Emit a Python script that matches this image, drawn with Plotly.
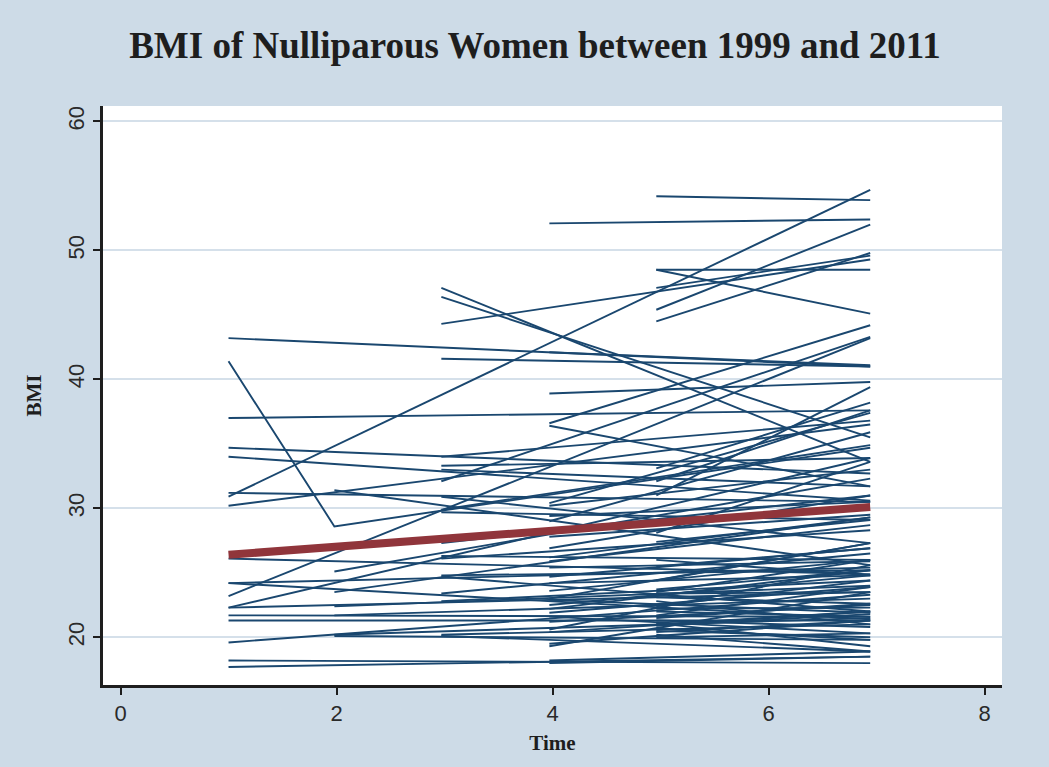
import plotly.graph_objects as go

# ---- data -------------------------------------------------------------
wave_times = [1.0, 1.98, 2.97, 3.97, 4.96]
end_time = 6.94

w1_start = [43.2, 37.0, 34.7, 34.0, 31.2, 30.9, 30.2, 26.1, 24.2, 24.2, 23.2, 22.3, 22.3, 21.7, 21.3, 19.6, 18.2, 17.7]
w1_end   = [41.0, 37.6, 32.7, 30.6, 30.5, 54.7, 36.5, 24.9, 25.4, 21.4, 43.2, 33.9, 23.5, 21.6, 21.3, 23.3, 18.0, 18.5]

w2_start = [31.4, 25.1, 23.5, 22.4, 21.7, 20.2, 20.1]
w2_end   = [25.6, 32.3, 29.3, 24.0, 23.0, 21.5, 19.8]

w3_start = [47.1, 46.4, 44.3, 41.6, 34.0, 33.3, 32.1, 33.0, 30.9, 29.9, 29.7, 27.3, 26.3, 26.1, 24.8, 24.7, 23.4, 22.8, 20.2, 20.1]
w3_end   = [33.6, 35.5, 49.3, 41.0, 36.8, 33.9, 43.3, 31.7, 27.3, 34.9, 29.1, 31.0, 26.0, 28.3, 25.2, 22.0, 26.5, 24.4, 21.0, 18.9]

w4_start = [52.1, 42.1, 38.9, 36.6, 36.4, 30.4, 30.2, 29.4, 29.0, 27.8, 26.9, 26.2, 25.9, 25.4, 24.7, 24.2, 23.6,
            23.0, 22.9, 22.5, 22.2, 21.9, 21.6, 21.2, 20.6, 20.4, 19.5, 19.3, 18.2, 18.0]
w4_end   = [52.4, 41.1, 39.8, 44.2, 31.7, 37.4, 33.0, 30.5, 35.9, 29.5, 31.0, 29.3, 28.7, 25.9, 26.9, 24.8, 26.0,
            27.3, 21.9, 24.8, 25.2, 23.9, 20.3, 22.5, 25.6, 22.0, 21.3, 23.5, 18.9, 18.5]

w5_start = [54.2, 48.5, 48.5, 47.1, 45.4, 44.5, 33.1, 32.1, 31.0, 28.1, 27.4, 26.0, 25.5, 24.4, 23.7, 23.5, 23.4,
            23.1, 22.8, 22.4, 22.2, 22.0, 21.7, 21.5, 21.3, 21.1, 21.0, 20.9, 20.7, 20.5, 20.4, 20.2, 20.0]
w5_end   = [53.9, 48.5, 45.1, 49.6, 52.0, 49.8, 38.2, 37.6, 39.4, 33.6, 29.1, 24.8, 26.9, 27.3, 25.2, 26.0, 23.5,
            22.6, 21.0, 24.4, 22.3, 21.6, 23.9, 22.6, 20.8, 19.3, 22.0, 21.8, 19.8, 20.0, 21.3, 18.9, 20.3]

# subject with three observations
bend_times = [1.0, 1.98, 6.94]
bend_bmi = [41.4, 28.6, 34.7]

# mean trend
mean_times = [1.0, 6.94]
mean_bmi = [26.4, 30.1]

x_ticks = [0, 2, 4, 6, 8]
y_ticks = [20, 30, 40, 50, 60]

# ---- build ------------------------------------------------------------
waves = [(w1_start, w1_end), (w2_start, w2_end), (w3_start, w3_end),
         (w4_start, w4_end), (w5_start, w5_end)]

xs, ys = [], []
for t0, (starts, ends) in zip(wave_times, waves):
    for s, e in zip(starts, ends):
        xs += [t0, end_time, None]
        ys += [s, e, None]
xs += bend_times + [None]
ys += bend_bmi + [None]

NAVY = "#1a476f"
MAROON = "#90353b"
BG = "#cddbe7"
GRID = "#d5e0ea"
AXIS = "#1e1e1e"

fig = go.Figure()
fig.add_trace(go.Scatter(x=xs, y=ys, mode="lines",
                         line=dict(color=NAVY, width=1.9),
                         hoverinfo="skip", showlegend=False))
fig.add_trace(go.Scatter(x=mean_times, y=mean_bmi, mode="lines",
                         line=dict(color=MAROON, width=8),
                         hoverinfo="skip", showlegend=False))

tickfont = dict(family="Liberation Sans, Arial, sans-serif", size=22, color="#2a2a2a")
titlefont = dict(family="Liberation Serif, Times New Roman, serif", size=21, color="#1e1e1e", weight="bold")

fig.update_layout(
    width=1049, height=767,
    margin=dict(l=103, r=47, t=106, b=82),
    paper_bgcolor=BG, plot_bgcolor="white",
    title=dict(text="<b>BMI of Nulliparous Women between 1999 and 2011</b>",
               x=0.51, xanchor="center", y=1 - 45 / 767, yanchor="middle",
               xref="container", yref="container",
               font=dict(family="Liberation Serif, Times New Roman, serif", size=37, color="#1e1e1e")),
    xaxis=dict(range=[-0.162, 8.16], tickvals=x_ticks, ticktext=[str(v) for v in x_ticks],
               showgrid=False, zeroline=False, showline=True, linecolor=AXIS, linewidth=2.5,
               ticks="outside", ticklen=7, tickwidth=2, tickcolor=AXIS, tickfont=tickfont,
               title=dict(text="Time", font=titlefont, standoff=11)),
    yaxis=dict(range=[16.3, 61.2], tickvals=y_ticks, ticktext=[str(v) for v in y_ticks],
               showgrid=True, gridcolor=GRID, gridwidth=2, zeroline=False,
               showline=True, linecolor=AXIS, linewidth=2.5,
               ticks="outside", ticklen=7, tickwidth=2, tickcolor=AXIS, tickfont=tickfont,
               tickangle=-90,
               title=dict(text="BMI", font=titlefont, standoff=18)),
)

fig.write_html("out.html")
